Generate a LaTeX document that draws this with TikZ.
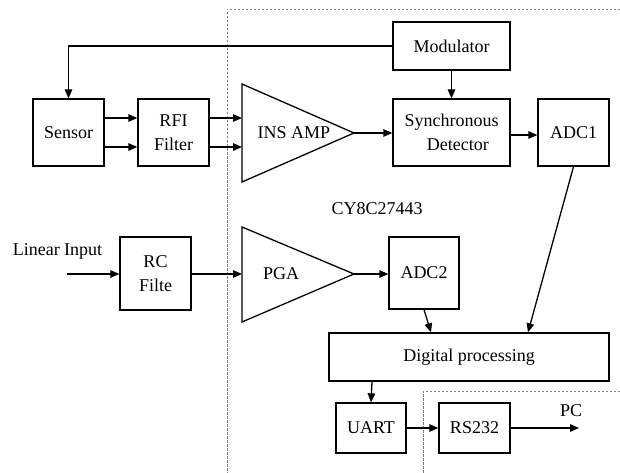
\documentclass[tikz,border=0pt]{standalone}
\usepackage{fontspec}
\setmainfont{Liberation Serif}
\newfontfamily\tnr{Liberation Serif}
\usetikzlibrary{arrows.meta,calc}
\begin{document}
\begin{tikzpicture}[x=1pt,y=-1pt,
  every node/.style={font=\tnr\fontsize{18}{24}\selectfont},
  blk/.style={draw, line width=1.3pt, inner sep=0pt, align=center},
  arr/.style={line width=1.3pt, -{Triangle[length=9pt,width=7.5pt]}},
  plain/.style={line width=1.3pt},
  region/.style={draw=gray, line width=0.6pt, dash pattern=on 2.5pt off 1.5pt}]
\useasboundingbox (0,0) rectangle (620,473);
% dashed regions
\draw[region] (620,9) -- (227,9) -- (227,473);
\draw[region] (620,391) -- (423,391) -- (423,473);
% blocks
\node[blk, minimum width=71pt, minimum height=67pt] (sensor) at (68.5,132.5) {Sensor};
\node[blk, minimum width=71pt, minimum height=67pt] (rfi) at (173.5,132.5) {RFI\\Filter};
\node[blk, minimum width=117pt, minimum height=48pt] (mod) at (451.5,46) {Modulator};
\node[blk, minimum width=117pt, minimum height=67pt] (sync) at (451.5,132.5) {Synchronous\\\hspace{0.7em}Detector};
\node[blk, minimum width=71pt, minimum height=67pt] (adc1) at (573.5,132.5) {ADC1};
\node[blk, minimum width=71pt, minimum height=73pt] (rc) at (155.5,273.5) {RC\\Filte};
\node[blk, minimum width=70pt, minimum height=72pt] (adc2) at (424,273) {ADC2};
\node[blk, minimum width=280pt, minimum height=48pt] (dig) at (469,357) {Digital processing};
\node[blk, minimum width=70pt, minimum height=50pt] (uart) at (371,428) {UART};
\node[blk, minimum width=71pt, minimum height=50pt] (rs) at (474.5,428) {RS232};
% amplifiers
\coordinate (insA) at (242,84);
\coordinate (insB) at (242,182);
\coordinate (instip) at (354,133);
\draw[plain, line join=miter] (insA) -- (instip) -- (insB) -- cycle;
\node (ins) at (294,133) {INS AMP};
\coordinate (pgaA) at (242,227);
\coordinate (pgaB) at (242,322);
\coordinate (pgatip) at (354,274);
\draw[plain, line join=miter] (pgaA) -- (pgatip) -- (pgaB) -- cycle;
\node (pga) at (281,274) {PGA};
\coordinate (insin1) at (242,118);
\coordinate (insin2) at (242,147);
\coordinate (pgain) at (242,274);
% labels
\node (chip) at (377,209) {CY8C27443};
\node (lintxt) at (57.5,251) {Linear Input};
\coordinate (lin) at (67,274);
\node (pctxt) at (571,411) {PC};
\coordinate (pc) at (579,428);
% connectors
\draw[arr] (mod.west) -| (sensor.north);
\draw[arr] (mod.south) -- (sync.north);
\draw[arr] ([yshift=14.5pt]sensor.east) -- ([yshift=14.5pt]rfi.west);
\draw[arr] ([yshift=-14.5pt]sensor.east) -- ([yshift=-14.5pt]rfi.west);
\draw[arr] ([yshift=14.5pt]rfi.east) -- (insin1);
\draw[arr] ([yshift=-14.5pt]rfi.east) -- (insin2);
\draw[arr] (instip) -- (instip -| sync.west);
\draw[arr] ([yshift=-2.5pt]sync.east) -- ([yshift=-2.5pt]adc1.west);
\draw[arr] (lin) -- (lin -| rc.west);
\draw[arr] (rc.east |- pgain) -- (pgain);
\draw[arr] (pgatip) -- (pgatip -| adc2.west);
\draw[arr] (adc1.south) -- ([xshift=59pt]dig.north);
\draw[arr] (adc2.south) -- ([xshift=-38pt]dig.north);
\draw[arr] ([xshift=-97pt]dig.south) -- (uart.north);
\draw[arr] (uart.east) -- (rs.west);
\draw[arr] (rs.east) -- (pc);
\end{tikzpicture}
\end{document}
